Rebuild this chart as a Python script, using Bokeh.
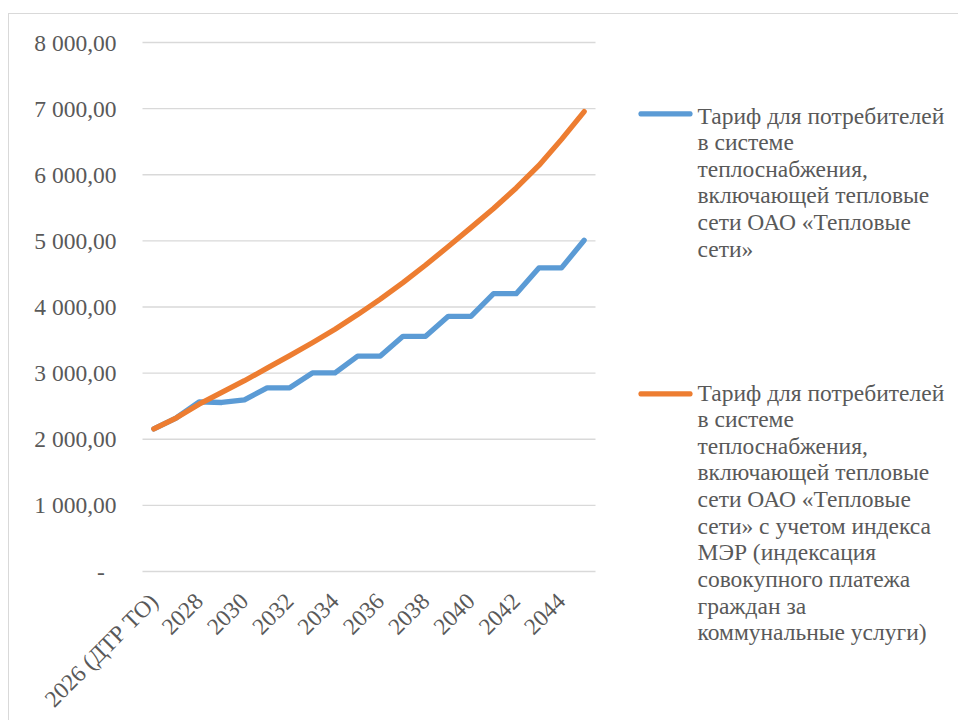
import math
from bokeh.plotting import figure
from bokeh.models import Range1d, Label, BoxAnnotation
from bokeh.core.properties import value
from bokeh.embed import file_html
from bokeh.resources import INLINE

# ---------------- data ----------------
years = ["2026 (ДТР ТО)", "2027", "2028", "2029", "2030", "2031", "2032", "2033",
         "2034", "2035", "2036", "2037", "2038", "2039", "2040", "2041", "2042",
         "2043", "2044", "2045"]

tariff_base = [2157, 2325, 2565, 2556, 2596, 2778, 2778, 3003, 3003, 3258, 3258,
               3556, 3556, 3859, 3859, 4202, 4202, 4591, 4591, 5010]

tariff_mer = [2157, 2325, 2530, 2710, 2885, 3075, 3265, 3460, 3665, 3885, 4120,
              4370, 4635, 4915, 5200, 5490, 5800, 6140, 6535, 6955]

y_ticks = [0, 1000, 2000, 3000, 4000, 5000, 6000, 7000, 8000]
y_tick_labels = ["-\u00a0\u00a0", "1 000,00", "2 000,00", "3 000,00", "4 000,00",
                 "5 000,00", "6 000,00", "7 000,00", "8 000,00"]

name_base = ("Тариф для потребителей\nв системе\nтеплоснабжения,\n"
             "включающей тепловые\nсети ОАО «Тепловые\nсети»")
name_mer = ("Тариф для потребителей\nв системе\nтеплоснабжения,\n"
            "включающей тепловые\nсети ОАО «Тепловые\nсети» с учетом индекса\n"
            "МЭР (индексация\nсовокупного платежа\nграждан за\nкоммунальные услуги)")

# ---------------- style / geometry ----------------
FONT = "Liberation Serif"
FS = "23.5px"
TXT = "#595959"
BLUE = "#5b9bd5"
ORANGE = "#ed7d31"
GRID = "#d9d9d9"

W, H = 950, 707                    # canvas size
AREA_LEFT, AREA_TOP = 133, 28      # offset of the plotting area inside the canvas
DATA_W, DATA_H = 453, 529          # pixel size of the category/value area
Y_MAX = 8000
n = len(years)
x_idx = list(range(n))

px_x = DATA_W / n
px_y = DATA_H / Y_MAX
x_start = -0.5 - AREA_LEFT / px_x
x_end = x_start + W / px_x
y_end = Y_MAX + AREA_TOP / px_y
y_start = y_end - H / px_y

p = figure(width=W, height=H, output_backend="svg", toolbar_location=None,
           title=None, x_range=Range1d(x_start, x_end),
           y_range=Range1d(y_start, y_end),
           x_axis_type=None, y_axis_type=None, min_border=0,
           styles={"margin-left": "8px", "margin-top": "13px",
                   "border-top": "1px solid #d9d9d9",
                   "border-left": "1px solid #d9d9d9"})
p.outline_line_color = None
p.background_fill_color = "white"
p.border_fill_color = "white"

# horizontal gridlines limited to the category area
p.segment(x0=[-0.5] * len(y_ticks), x1=[n - 0.5] * len(y_ticks),
          y0=y_ticks, y1=y_ticks, line_color=GRID, line_width=1.3)

# value labels at the left of the gridlines
p.text(x=[-0.5] * len(y_ticks), y=y_ticks, text=y_tick_labels,
       text_align="right", text_baseline="middle", x_offset=-26,
       text_font=value(FONT), text_font_size=FS, text_color=TXT)

# category labels (every second year), rotated 45 degrees under the value 0 line
shown = [i for i in x_idx if i % 2 == 0 and i < n - 1]
p.text(x=shown, y=[0] * len(shown), text=[years[i] for i in shown],
       angle=math.pi / 4, text_align="right", text_baseline="middle",
       y_offset=26, text_font=value(FONT), text_font_size=FS, text_color=TXT)

# series
p.line(x_idx, tariff_base, line_color=BLUE, line_width=5.3,
       line_cap="round", line_join="round")
p.line(x_idx, tariff_mer, line_color=ORANGE, line_width=5.3,
       line_cap="round", line_join="round")

# legend (screen units relative to the frame's bottom-left corner)
entries = [(name_base, BLUE, 619, 605), (name_mer, ORANGE, 342, 325)]
for (txt, col, ytop, yb) in entries:
    p.add_layout(Label(x=688, y=ytop, x_units="screen", y_units="screen", text=txt,
                       text_font=FONT, text_font_size=FS, text_color=TXT,
                       text_baseline="top", text_align="left",
                       text_line_height=1.025))
for (txt, col, ytop, yb) in entries:
    p.add_layout(BoxAnnotation(left=629, right=683, bottom=yb, top=yb + 5.3,
                               left_units="screen", right_units="screen",
                               bottom_units="screen", top_units="screen",
                               fill_color=col, fill_alpha=1, line_color=None,
                               border_radius=2))

open("out.html", "w").write(file_html(p, INLINE))
